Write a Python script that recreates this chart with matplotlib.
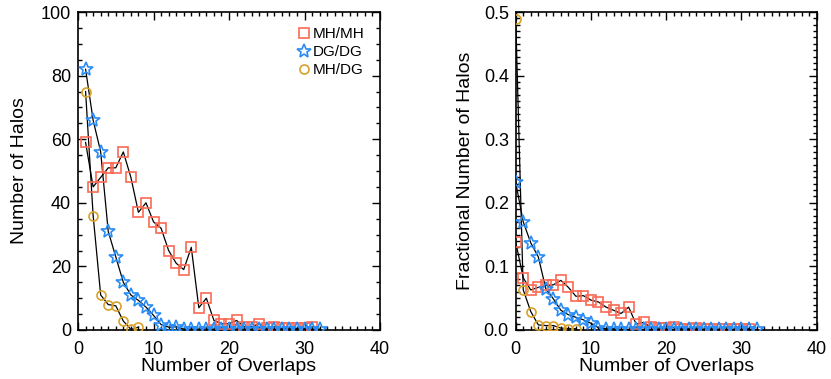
import matplotlib
matplotlib.use("Agg")
import matplotlib.pyplot as plt
from matplotlib.lines import Line2D
from matplotlib.ticker import MultipleLocator

plt.rcParams["font.family"] = ["Liberation Sans", "DejaVu Sans"]

# ---------- data ----------
labels = ["MH/MH", "DG/DG", "MH/DG"]

# left: number of halos vs number of overlaps (starts at 1)
mhmh_x = list(range(1, 32))
mhmh_n = [59, 45, 48, 51, 51, 56, 48, 37, 40, 34, 32, 25, 21, 19, 26, 7, 10,
          3, 2, 2, 3, 1, 1, 2, 0.5, 1, 0.5, 0.5, 0.5, 0.5, 1]
dgdg_x = list(range(1, 33))
dgdg_n = [82, 66, 56, 31, 23, 15, 11, 9.3, 7.2, 4.6, 1.7, 0.9, 1, 0.3, 0.3,
          0.3, 0.3, 0.3, 0.3, 0.3, 0.3, 0.3, 0.3, 0.3, 0.3, 0.3, 0.3, 0.3,
          0.3, 0.3, 0.3, 0.3]
mhdg_x = list(range(1, 9))
mhdg_n = [75, 36, 11, 8, 7.6, 2.8, 0.2, 0.9]

# right: fractional number of halos (starts at 0)
mhmh_fx = list(range(0, 32))
mhmh_f = [0.138, 0.082, 0.063, 0.067, 0.070, 0.071, 0.078, 0.067, 0.053,
          0.054, 0.047, 0.044, 0.036, 0.031, 0.026, 0.036, 0.0095, 0.012,
          0.004, 0.003, 0.003, 0.004, 0.002, 0.002, 0.003, 0.001, 0.002,
          0.001, 0.001, 0.001, 0.001, 0.002]
dgdg_fx = list(range(0, 33))
dgdg_f = [0.232, 0.170, 0.137, 0.115, 0.065, 0.049, 0.031, 0.024, 0.020,
          0.016, 0.0105, 0.0035, 0.002, 0.002, 0.001, 0.001, 0.001, 0.001,
          0.001, 0.001, 0.001, 0.001, 0.001, 0.001, 0.001, 0.001, 0.001,
          0.001, 0.001, 0.001, 0.001, 0.001, 0.001]
mhdg_fx = list(range(0, 9))
mhdg_f = [0.489, 0.063, 0.029, 0.008, 0.007, 0.007, 0.003, 0.002, 0.002]

colors = ["#FA6A55", "#2A8CF5", "#D9A12A"]
markers = ["s", "*", "o"]
msizes = [7.5, 10, 6.5]

fig = plt.figure(figsize=(8.31, 3.79), dpi=100)
ax_l = fig.add_axes([0.0939, 0.1293, 0.3634, 0.839])
ax_r = fig.add_axes([0.6206, 0.1293, 0.3622, 0.839])


def draw_series(ax, series):
    for (x, y), c, m, s in zip(series, colors, markers, msizes):
        ax.plot(x, y, color="black", lw=0.9, zorder=2)
        ax.plot(x, y, ls="none", marker=m, ms=s, mfc="none", mec=c,
                mew=1.2, zorder=3)


def style_axes(ax):
    ax.tick_params(which="both", direction="in", top=True, right=True,
                   labelsize=13, width=1.0)
    ax.tick_params(which="major", length=6, pad=5)
    ax.tick_params(which="minor", length=3)
    ax.tick_params(axis="x", which="major", pad=8)
    for sp in ax.spines.values():
        sp.set_linewidth(1.2)
    ax.set_xlim(0, 40)
    ax.xaxis.set_major_locator(MultipleLocator(10))
    ax.xaxis.set_minor_locator(MultipleLocator(1))
    ax.set_xlabel("Number of Overlaps", fontsize=14, labelpad=0)


# ---------- left panel ----------
draw_series(ax_l, [(mhmh_x, mhmh_n), (dgdg_x, dgdg_n), (mhdg_x, mhdg_n)])
style_axes(ax_l)
ax_l.set_ylim(0, 100)
ax_l.yaxis.set_major_locator(MultipleLocator(20))
ax_l.yaxis.set_minor_locator(MultipleLocator(5))
ax_l.set_ylabel("Number of Halos", fontsize=14, labelpad=9)

handles = [Line2D([], [], ls="none", marker=m, ms=s, mfc="none", mec=c, mew=1.2)
           for c, m, s in zip(colors, markers, msizes)]
ax_l.legend(handles, labels, loc="upper right", frameon=False, fontsize=11,
            handlelength=0.8, handletextpad=0.2, labelspacing=0.25,
            borderaxespad=0.6)

# ---------- right panel ----------
draw_series(ax_r, [(mhmh_fx, mhmh_f), (dgdg_fx, dgdg_f), (mhdg_fx, mhdg_f)])
style_axes(ax_r)
ax_r.set_ylim(0, 0.5)
ax_r.yaxis.set_major_locator(MultipleLocator(0.1))
ax_r.yaxis.set_minor_locator(MultipleLocator(0.01))
ax_r.set_ylabel("Fractional Number of Halos", fontsize=14, labelpad=7)

fig.savefig("out.png", dpi=100)
